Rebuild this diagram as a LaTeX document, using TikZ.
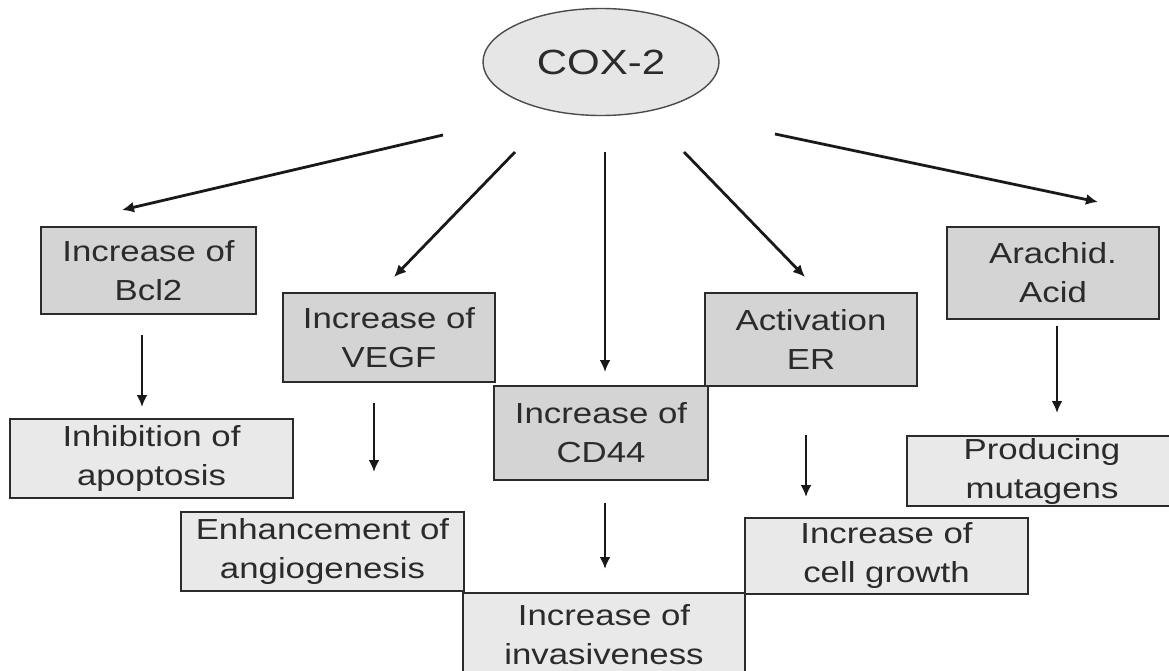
\documentclass[tikz,border=0pt]{standalone}
\usepackage{fontspec}
\newfontfamily\dfont[FakeStretch=1.2]{Liberation Sans}
\usetikzlibrary{arrows.meta,shapes.geometric}
\definecolor{darkfill}{HTML}{D4D4D4}
\definecolor{lightfill}{HTML}{E9E9E9}
\definecolor{ovalfill}{HTML}{E6E6E6}
\definecolor{ink}{HTML}{2B2B2B}
\begin{document}
\begin{tikzpicture}[x=1pt,y=-1pt,
  box/.style={draw=ink, line width=2pt, inner sep=0pt, align=center, text=ink,
              font=\dfont\fontsize{29}{39}\selectfont},
  dark/.style={box, fill=darkfill},
  light/.style={box, fill=lightfill},
  arr/.style={draw=black!90, line width=2.8pt, -{Latex[length=12pt,width=11pt]}}]
\useasboundingbox (0,0) rectangle (1169,670);
\clip (0,0) rectangle (1169,670);
\fill[white] (0,0) rectangle (1169,670);

% central oval
\node[ellipse, draw=ink!85, line width=1.4pt, fill=ovalfill, minimum width=236pt,
      minimum height=107pt, inner sep=0pt, text=ink,
      font=\dfont\fontsize{35}{40}\selectfont] (cox) at (601,62) {COX-2};

% first-level boxes
\node[dark, minimum width=215pt, minimum height=87pt] (bcl) at (148.5,270.5) {Increase of\\Bcl2};
\node[dark, minimum width=212pt, minimum height=89pt] (vegf) at (389,337.5) {Increase of\\VEGF};
\node[dark, minimum width=214pt, minimum height=94pt] (cd44) at (601,433) {Increase of\\CD44};
\node[dark, minimum width=212pt, minimum height=93pt] (er) at (811,339.5) {Activation\\ER};
\node[dark, minimum width=212pt, minimum height=92pt] (ara) at (1053,273) {Arachid.\\Acid};

% second-level boxes
\node[light, minimum width=283pt, minimum height=79pt] (inh) at (151.5,458.5) {Inhibition of\\apoptosis};
\node[light, minimum width=283pt, minimum height=79pt] (enh) at (322.5,551.5) {Enhancement of\\angiogenesis};
\node[light, minimum width=282pt, minimum height=84pt] (inv) at (604,635) {Increase of\\invasiveness};
\node[light, minimum width=283pt, minimum height=76pt] (cell) at (886.5,556) {Increase of\\cell growth};
\node[light, minimum width=270pt, minimum height=70pt] (prod) at (1042,471) {Producing\\mutagens};

% connector end points
\coordinate (a1s) at (443,135); \coordinate (a1e) at (122,210);
\coordinate (a2s) at (515,152); \coordinate (a2e) at (394,277);
\coordinate (a3s) at (605,152); \coordinate (a3e) at (605,372);
\coordinate (a4s) at (684,152); \coordinate (a4e) at (805,277);
\coordinate (a5s) at (775,134); \coordinate (a5e) at (1098,202);
\coordinate (b1s) at (142,335); \coordinate (b1e) at (142,407);
\coordinate (b2s) at (374,403); \coordinate (b2e) at (374,472);
\coordinate (b3s) at (605,503); \coordinate (b3e) at (605,569);
\coordinate (b4s) at (806,435); \coordinate (b4e) at (806,497);
\coordinate (b5s) at (1057,326); \coordinate (b5e) at (1057,413);

\draw[arr] (a1s) -- (a1e);
\draw[arr] (a2s) -- (a2e);
\draw[arr] (a3s) -- (a3e);
\draw[arr] (a4s) -- (a4e);
\draw[arr] (a5s) -- (a5e);
\draw[arr] (b1s) -- (b1e);
\draw[arr] (b2s) -- (b2e);
\draw[arr] (b3s) -- (b3e);
\draw[arr] (b4s) -- (b4e);
\draw[arr] (b5s) -- (b5e);
\end{tikzpicture}
\end{document}
